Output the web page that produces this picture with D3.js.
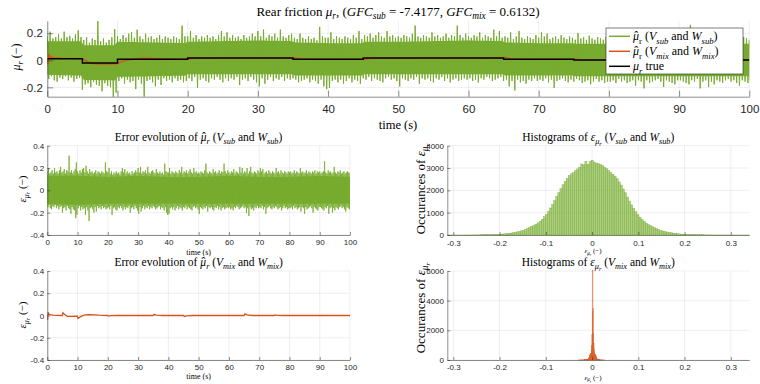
<!DOCTYPE html>
<html><head><meta charset="utf-8">
<script src="https://cdn.jsdelivr.net/npm/d3@7"></script>
<style>body{margin:0;background:#fff}</style>
</head><body>
<script>
// ---------------- data ----------------
// true rear friction (piecewise constant), breakpoints in s
const trueT = [0, 5, 10, 20, 35, 45, 65, 75, 100];
const trueV = [0.012, -0.019, 0.0073, 0.017, 0.0073, 0.017, 0.0073, 0.0024, 0.0024];

// error of the (V_mix, W_mix) estimate
const mixErrT = [0,.1,.25,.5,1,2,3,4.95,5.15,5.5,6,6.6,8,9.9,10.15,10.6,11.5,12.5,14,17,19.95,20.2,21,23,34.95,35.3,36,38,44.95,45.3,46,48,64.95,65.3,66,68,74.95,75.3,76,78,100];
const mixErrV = [0,-.04,.03,.012,.008,.004,.002,0,.025,.016,.004,-.007,-.008,-.007,-.027,-.017,-.004,.005,.008,.003,0,-.005,-.002,0,0,.011,.004,0,0,-.009,-.003,0,0,.014,.005,0,0,.006,.002,0,0];

// error of the (V_sub, W_sub) estimate: upper / lower extremes every 0.4 s
const subErrStep = 0.4;
const subErrHi = [
 .17,.2,.15,.16,.18,.15,.2,.16,.17,.15,.18,.21,.16,.17,.19,.15,.18,.17,.31,.16,.18,.15,.17,.19,.25,
 .17,.15,.18,.16,.19,.2,.16,.22,.17,.15,.19,.16,.17,.15,.16,.18,.15,.17,.16,.15,.17,.16,.15,.25,.17,
 .16,.2,.15,.17,.14,.16,.15,.17,.15,.16,.14,.17,.2,.16,.19,.15,.17,.15,.16,.14,.17,.15,.16,.18,.16,
 .2,.16,.21,.15,.17,.16,.18,.15,.21,.16,.15,.17,.18,.16,.15,.19,.16,.15,.17,.15,.16,.14,.24,.17,.16,
 .16,.2,.15,.17,.16,.15,.17,.16,.15,.18,.16,.21,.15,.17,.16,.18,.15,.17,.19,.16,.15,.2,.16,.17,.15,
 .16,.15,.17,.16,.15,.18,.24,.16,.15,.17,.16,.15,.19,.16,.17,.15,.16,.18,.15,.17,.16,.24,.17,.15,.18,
 .16,.15,.17,.16,.19,.15,.17,.16,.15,.21,.16,.2,.15,.17,.16,.2,.15,.17,.21,.16,.15,.17,.16,.15,.18,
 .16,.2,.17,.19,.15,.16,.17,.15,.18,.16,.15,.17,.16,.15,.2,.16,.17,.15,.18,.16,.15,.17,.16,.15,.17,
 .16,.17,.15,.16,.18,.15,.17,.16,.15,.2,.16,.17,.15,.16,.18,.15,.17,.16,.15,.17,.16,.18,.15,.17,.16,
 .17,.15,.16,.17,.26,.16,.15,.18,.16,.17,.15,.16,.21,.16,.15,.17,.16,.18,.15,.16,.17,.15,.16,.17,.16,.15];
const subErrLo = [
 -.15,-.13,-.16,-.17,-.14,-.15,-.13,-.16,-.14,-.17,-.15,-.14,-.2,-.16,-.15,-.18,-.14,-.16,-.17,-.21,-.15,-.17,-.18,-.25,-.22,
 -.16,-.14,-.18,-.15,-.17,-.16,-.22,-.15,-.18,-.275,-.16,-.15,-.17,-.2,-.15,-.19,-.14,-.16,-.15,-.17,-.14,-.16,-.15,-.17,-.16,
 -.15,-.17,-.14,-.22,-.16,-.15,-.17,-.18,-.15,-.16,-.14,-.16,-.18,-.15,-.17,-.15,-.16,-.14,-.2,-.16,-.15,-.17,-.14,-.16,-.18,
 -.21,-.15,-.19,-.16,-.14,-.17,-.15,-.16,-.14,-.17,-.15,-.16,-.14,-.15,-.17,-.16,-.15,-.14,-.17,-.15,-.16,-.18,-.15,-.2,-.22,
 -.21,-.16,-.15,-.17,-.15,-.18,-.16,-.14,-.17,-.15,-.16,-.18,-.15,-.16,-.14,-.17,-.15,-.16,-.17,-.18,-.15,-.14,-.16,-.15,-.17,
 -.21,-.15,-.16,-.17,-.15,-.16,-.14,-.19,-.15,-.16,-.15,-.17,-.18,-.15,-.16,-.14,-.17,-.15,-.18,-.16,-.15,-.17,-.16,-.15,-.16,
 -.15,-.17,-.16,-.18,-.15,-.16,-.14,-.15,-.17,-.16,-.15,-.14,-.16,-.15,-.2,-.16,-.23,-.15,-.17,-.16,-.18,-.15,-.16,-.14,-.16,
 -.15,-.16,-.14,-.17,-.15,-.21,-.16,-.15,-.14,-.16,-.17,-.15,-.16,-.14,-.15,-.17,-.16,-.15,-.18,-.16,-.14,-.16,-.15,-.17,-.16,
 -.16,-.15,-.17,-.14,-.16,-.15,-.17,-.16,-.15,-.19,-.15,-.16,-.21,-.15,-.17,-.16,-.15,-.14,-.16,-.2,-.15,-.16,-.17,-.18,-.15,
 -.15,-.16,-.17,-.18,-.15,-.16,-.14,-.21,-.16,-.15,-.2,-.16,-.18,-.15,-.16,-.17,-.15,-.14,-.16,-.15,-.17,-.19,-.15,-.16,-.17,-.15];
// dense core of the V_sub error band, every 10 s
const coreT  = [0,10,20,30,40,50,60,70,80,90,100];
const coreHi = [.13,.13,.12,.13,.12,.12,.13,.12,.12,.13,.12];
const coreLo = [-.12,-.13,-.12,-.12,-.12,-.12,-.12,-.12,-.12,-.12,-.12];

// histogram of the V_sub error
const histSubStart = -0.3125, histSubWidth = 0.0045;
const histSubCounts = [
 1,1,1,1,1,1,2,2,2,3, 3,4,4,5,6,7,8,10,12,14, 16,19,23,27,32,38,44,52,60,72,
 85,100,120,140,160,185,215,250,290,330, 380,430,480,545,620,710,815,930,1060,1210,
 1370,1540,1720,1900,2080,2250,2400,2540,2660,2740, 2800,2880,2960,3040,3180,3150,3300,3160,3290,
 3350,
 3270,3220,3200,3160,3120,3040,2980,2880,2790,2720, 2640,2520,2380,2240,2060,1890,1700,1520,1350,1190,
 1040,910,800,700,610,535,470,420,370,325, 285,245,210,180,155,135,115,98,82,70,
 58,50,42,36,30,26,22,18,15,13, 11,9,8,7,6,5,4,4,3,3, 2,2,2,2,1,1,1,1,1,1, 1,1,1,1,1];
// histogram of the V_mix error
const histMixStart = -0.0292, histMixWidth = 0.0008;
const histMixCounts = [
 2,3,2,3,4,3,5,4,6,5,7,6,8,9,10,12,14,16,18,22,26,
 30,35,42,50,60,80,120,200,300,340,360,390,460,650,1000,1700,3300,
 6050,
 3500,1800,1100,700,480,400,360,330,280,190,110,70,50,40,32,26,20,16,13,10,8,7,6,5,4,4,3,3,2,2,1];

const timeTicks = [0,10,20,30,40,50,60,70,80,90,100];
const muTicks = [-0.2, 0, 0.2];
const errTicks = [-0.4, -0.2, 0, 0.2, 0.4];
const histXTicks = [-0.3, -0.2, -0.1, 0, 0.1, 0.2, 0.3];
const histSubYTicks = [0, 1000, 2000, 3000, 4000];
const histMixYTicks = [0, 2000, 4000, 6000];

// ---------------- drawing ----------------
const GREEN = "#77AC30", RED = "#D95319", AX = "#262626";
const SERIF = "'Liberation Serif','Times New Roman',serif";
const SANS = "'Liberation Sans',Arial,Helvetica,sans-serif";
const svg = d3.select("body").append("svg").attr("width", 760).attr("height", 384)
  .style("background", "#fff");
const defs = svg.append("defs");
let clipId = 0;

// text with italic / subscript / hat parts: "i" italic, "s" subscript level, "h" hat accent
function rich(x, y, parts, size, anchor = "middle", rot = false) {
  const t = svg.append("text").attr("x", x).attr("y", y).attr("font-family", SERIF)
    .attr("font-size", size).attr("text-anchor", anchor).attr("fill", "#000");
  if (rot) t.attr("transform", `rotate(-90 ${x} ${y})`);
  let cur = 0, pendDx = 0;
  const sh = [0, 0.28, 0.45], sc = [1, 0.72, 0.55];
  parts.forEach(([s, st = ""]) => {
    const lvl = (st.match(/s/g) || []).length;
    const ts = t.append("tspan").text(s).attr("font-size", size * sc[lvl]);
    if (st.includes("i")) ts.attr("font-style", "italic");
    const target = size * sh[lvl];
    if (target !== cur) { ts.attr("dy", target - cur); cur = target; }
    if (pendDx) { ts.attr("dx", pendDx); pendDx = 0; }
    if (st.includes("h")) {
      t.append("tspan").text("ˆ").attr("font-size", size).attr("dx", -0.40 * size);
      pendDx = 0.07 * size;
    }
  });
  return t;
}

function panel(o) {
  const x = d3.scaleLinear().domain(o.xd).range([o.l, o.r]);
  const y = d3.scaleLinear().domain(o.yd).range([o.b, o.t]);
  const g = svg.append("g");
  const grid = g.append("g").attr("stroke", AX).attr("stroke-opacity", 0.13).attr("stroke-width", 0.6);
  grid.selectAll(".gx").data(o.xt).join("line").attr("x1", d => x(d)).attr("x2", d => x(d))
    .attr("y1", o.t).attr("y2", o.b);
  grid.selectAll(".gy").data(o.yt).join("line").attr("y1", d => y(d)).attr("y2", d => y(d))
    .attr("x1", o.l).attr("x2", o.r);
  const id = "clip" + (clipId++);
  defs.append("clipPath").attr("id", id).append("rect")
    .attr("x", o.l).attr("y", o.t - 1).attr("width", o.r - o.l).attr("height", o.b - o.t + 2);
  const data = g.append("g").attr("clip-path", `url(#${id})`);
  return { x, y, g, data, o };
}

function axes(p) {
  const o = p.o;
  const fmt = d => String(d);
  const ax = p.g.append("g").attr("transform", `translate(0,${o.b})`)
    .call(d3.axisBottom(p.x).tickValues(o.xt).tickFormat(fmt).tickSize(-o.tick).tickSizeOuter(0).tickPadding(o.xpad));
  const ay = p.g.append("g").attr("transform", `translate(${o.l},0)`)
    .call(d3.axisLeft(p.y).tickValues(o.yt).tickFormat(fmt).tickSize(-o.tick).tickSizeOuter(0).tickPadding(o.ypad));
  [ax, ay].forEach(a => {
    a.select(".domain").attr("stroke", AX).attr("stroke-width", 0.7).attr("stroke-opacity", 0.75);
    a.selectAll(".tick line").attr("stroke", AX).attr("stroke-width", 0.7).attr("stroke-opacity", 0.75);
    a.selectAll("text").attr("font-family", SANS).attr("font-size", o.fs).attr("fill", AX);
  });
}

function trueAt(t) {
  let j = 0;
  for (let k = 0; k < trueT.length; k++) if (trueT[k] <= t) j = k;
  return trueV[j];
}
const subT = subErrHi.map((_, i) => i * subErrStep);
const coreHiAt = d3.scaleLinear().domain(coreT).range(coreHi);
const coreLoAt = d3.scaleLinear().domain(coreT).range(coreLo);

function zigPoints(offset) {
  const pts = [];
  subT.forEach((t, i) => {
    pts.push([t, offset(t) + subErrHi[i]]);
    const t2 = Math.min(t + subErrStep / 2, 100);
    pts.push([t2, offset(t2) + subErrLo[i]]);
  });
  return pts;
}
function drawSub(p, offset, sw) {
  p.data.append("path").datum(subT)
    .attr("d", d3.area().x(t => p.x(t)).y0(t => p.y(offset(t) + coreLoAt(t))).y1(t => p.y(offset(t) + coreHiAt(t))))
    .attr("fill", GREEN);
  p.data.append("path").datum(zigPoints(offset))
    .attr("d", d3.line().x(d => p.x(d[0])).y(d => p.y(d[1])))
    .attr("fill", "none").attr("stroke", GREEN).attr("stroke-width", sw).attr("stroke-linejoin", "miter").attr("stroke-miterlimit", 30);
}

// ---- top panel ----
const topPts = zigPoints(trueAt);
const pTop = panel({ l: 47.3, r: 749.3, t: 21, b: 96.7, xd: [0, 100], yd: d3.extent(topPts, d => d[1]),
  xt: timeTicks, yt: muTicks, tick: 6, fs: 11.5, xpad: 8, ypad: 4.5 });
drawSub(pTop, trueAt, 1);
const mixPts = mixErrT.map((t, i) => [t, trueAt(t) + mixErrV[i]]);
pTop.data.append("path").datum(mixPts).attr("d", d3.line().x(d => pTop.x(d[0])).y(d => pTop.y(d[1])))
  .attr("fill", "none").attr("stroke", RED).attr("stroke-width", 1.5);
const truePts = trueT.map((t, i) => [t, trueV[i]]);
pTop.data.append("path").datum(truePts).attr("d", d3.line().curve(d3.curveStepAfter).x(d => pTop.x(d[0])).y(d => pTop.y(d[1])))
  .attr("fill", "none").attr("stroke", "#000").attr("stroke-width", 1.5);
axes(pTop);

// legend
const lg = svg.append("g");
lg.append("rect").attr("x", 606).attr("y", 28).attr("width", 137).attr("height", 46)
  .attr("fill", "#fff").attr("stroke", AX).attr("stroke-width", 0.6);
const legRows = [
  { c: GREEN, parts: [["μ", "ih"], ["r", "s"], [" ("], ["V", "i"], ["sub", "si"], [" and "], ["W", "i"], ["sub", "si"], [")"]] },
  { c: RED, parts: [["μ", "ih"], ["r", "s"], [" ("], ["V", "i"], ["mix", "si"], [" and "], ["W", "i"], ["mix", "si"], [")"]] },
  { c: "#000", parts: [["μ", "i"], ["r", "si"], [" true"]] }];
legRows.forEach((r, i) => {
  const yy = 36.3 + 15 * i;
  lg.append("line").attr("x1", 609).attr("x2", 630).attr("y1", yy).attr("y2", yy).attr("stroke", r.c).attr("stroke-width", 1.5);
  rich(633, yy + 4, r.parts, 12, "start");
});

rich(398, 15.7, [["Rear friction "], ["μ", "i"], ["r", "si"], [", ("], ["GFC", "i"], ["sub", "si"], [" = -7.4177, "], ["GFC", "i"], ["mix", "si"], [" = 0.6132)"]], 13);
rich(20, 57, [["μ", "i"], ["r", "si"], [" (−)"]], 12, "middle", true);
rich(398, 128.5, [["time (s)"]], 12.5);

// ---- middle-left: V_sub error ----
const ml = panel({ l: 47.3, r: 350, t: 145.7, b: 235, xd: [0, 100], yd: [-0.4, 0.4],
  xt: timeTicks, yt: errTicks, tick: 3, fs: 8, xpad: 4.5, ypad: 3 });
drawSub(ml, () => 0, 0.8);
axes(ml);
rich(198.6, 140.5, [["Error evolution of "], ["μ", "ih"], ["r", "si"], [" ("], ["V", "i"], ["sub", "si"], [" and "], ["W", "i"], ["sub", "si"], [")"]], 11.5);
rich(25.5, 189, [["ε", "i"], ["μ", "si"], ["r", "ssi"], [" (−)"]], 11, "middle", true);
rich(198.6, 254.5, [["time (s)"]], 8);

// ---- bottom-left: V_mix error ----
const bl = panel({ l: 47.3, r: 350, t: 271, b: 360, xd: [0, 100], yd: [-0.4, 0.4],
  xt: timeTicks, yt: errTicks, tick: 3, fs: 8, xpad: 4.2, ypad: 3 });
bl.data.append("path").datum(mixErrT.map((t, i) => [t, mixErrV[i]]))
  .attr("d", d3.line().x(d => bl.x(d[0])).y(d => bl.y(d[1])))
  .attr("fill", "none").attr("stroke", RED).attr("stroke-width", 1.3);
axes(bl);
rich(198.6, 266, [["Error evolution of "], ["μ", "ih"], ["r", "si"], [" ("], ["V", "i"], ["mix", "si"], [" and "], ["W", "i"], ["mix", "si"], [")"]], 11.5);
rich(25.5, 315, [["ε", "i"], ["μ", "si"], ["r", "ssi"], [" (−)"]], 11, "middle", true);
rich(198.6, 378.5, [["time (s)"]], 8);

// ---- histograms ----
function drawHist(p, start, width, counts, color) {
  p.g.append("g").selectAll("rect").data(counts).join("rect")
    .attr("x", (d, i) => p.x(start + i * width))
    .attr("width", p.x(start + width) - p.x(start))
    .attr("y", d => p.y(d))
    .attr("height", d => p.y(0) - p.y(d))
    .attr("fill", color).attr("fill-opacity", 0.6)
    .attr("stroke", color).attr("stroke-width", 0.35);
}
const hxd = [-0.313, 0.34];
const h1 = panel({ l: 447.3, r: 749.3, t: 145.7, b: 235, xd: hxd, yd: [0, 4000],
  xt: histXTicks, yt: histSubYTicks, tick: 3, fs: 8, xpad: 5.5, ypad: 3.3 });
drawHist(h1, histSubStart, histSubWidth, histSubCounts, GREEN);
axes(h1);
rich(598.3, 140.5, [["Histograms of "], ["ε", "i"], ["μ", "si"], ["r", "ssi"], [" ("], ["V", "i"], ["sub", "si"], [" and "], ["W", "i"], ["sub", "si"], [")"]], 11.5);
rich(424.5, 189, [["Occurances of "], ["ε", "i"], ["μ", "si"], ["r", "ssi"]], 13, "middle", true);
rich(593, 253, [["ε", "i"], ["μ", "si"], ["r", "ssi"], [" (−)"]], 7);

const h2 = panel({ l: 447.3, r: 749.3, t: 271, b: 360, xd: hxd, yd: [0, 6000],
  xt: histXTicks, yt: histMixYTicks, tick: 3, fs: 8, xpad: 3.9, ypad: 3.3 });
drawHist(h2, histMixStart, histMixWidth, histMixCounts, RED);
axes(h2);
rich(598.3, 265.5, [["Histograms of "], ["ε", "i"], ["μ", "si"], ["r", "ssi"], [" ("], ["V", "i"], ["mix", "si"], [" and "], ["W", "i"], ["mix", "si"], [")"]], 11.5);
rich(424.5, 308, [["Occurances of "], ["ε", "i"], ["μ", "si"], ["r", "ssi"]], 13, "middle", true);
rich(593, 379.5, [["ε", "i"], ["μ", "si"], ["r", "ssi"], [" (−)"]], 7);
</script>
</body></html>
